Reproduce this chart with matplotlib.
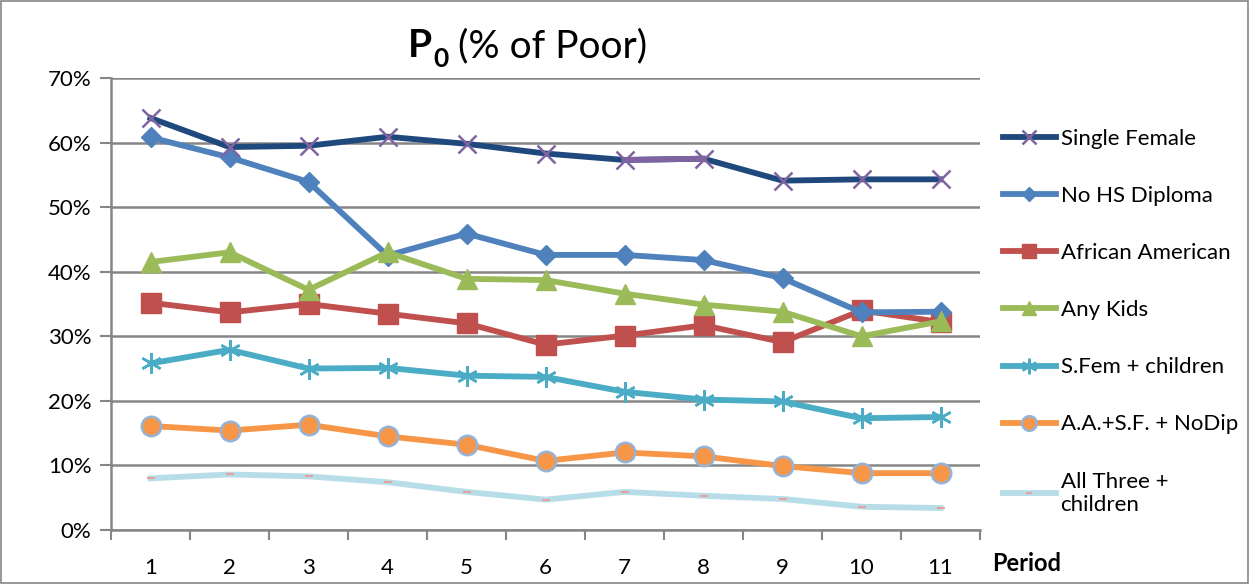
#%%
import numpy as np
import matplotlib.pyplot as plt
from matplotlib.patches import Rectangle

plt.rcParams['font.family'] = ['Lato', 'DejaVu Sans']

# %% data (in %)
periods = np.arange(1, 12)
single_female = [63.8, 59.3, 59.5, 60.9, 59.8, 58.3, 57.3, 57.5, 54.1, 54.3, 54.3]
no_hs_diploma = [60.8, 57.7, 53.9, 42.5, 45.9, 42.6, 42.6, 41.8, 39.0, 33.7, 33.8]
african_american = [35.2, 33.7, 35.0, 33.5, 32.0, 28.7, 30.1, 31.7, 29.1, 34.0, 32.2]
any_kids = [41.5, 43.0, 37.2, 43.0, 38.9, 38.7, 36.6, 34.9, 33.8, 30.0, 32.3]
sfem_children = [25.8, 27.9, 25.0, 25.1, 23.9, 23.7, 21.4, 20.2, 19.9, 17.3, 17.5]
aa_sf_nodip = [16.1, 15.4, 16.3, 14.5, 13.2, 10.7, 12.0, 11.4, 9.9, 8.8, 8.8]
all_three = [8.0, 8.6, 8.3, 7.4, 5.9, 4.7, 5.9, 5.3, 4.8, 3.6, 3.4]

labels = ["Single Female", "No HS Diploma", "African American", "Any Kids",
          "S.Fem + children", "A.A.+S.F. + NoDip", "All Three +\nchildren"]
yticks = [0, 10, 20, 30, 40, 50, 60, 70]

# %% plot
fig = plt.figure(figsize=(12.5, 5.84), dpi=100)
ax = fig.add_axes([0.0888, 0.0925, 0.6952, 0.774])

lw = 4.2
ax.plot(periods, single_female, color='#1F497D', lw=lw, marker='x', ms=13,
        mec='#8064A2', mew=1.8, label=labels[0], zorder=5)
# one segment of this series is purple in the original
ax.plot(periods[6:8], single_female[6:8], color='#8064A2', lw=lw, zorder=5)
ax.plot(periods, no_hs_diploma, color='#4F81BD', lw=lw, marker='D', ms=10,
        mfc='#4F81BD', mec='#4F81BD', label=labels[1], zorder=4)
ax.plot(periods, african_american, color='#C0504D', lw=lw, marker='s', ms=14,
        mfc='#C0504D', mec='#C0504D', label=labels[2], zorder=3)
ax.plot(periods, any_kids, color='#9BBB59', lw=lw, marker='^', ms=14,
        mfc='#9BBB59', mec='#9BBB59', label=labels[3], zorder=4)
ax.plot(periods, sfem_children, color='#4BACC6', lw=lw, marker=(6, 2, 0), ms=15,
        mec='#4BACC6', mew=1.8, label=labels[4], zorder=3)
ax.plot(periods, aa_sf_nodip, color='#F79646', lw=lw, marker='o', ms=14,
        mfc='#F79646', mec='#95B3D7', mew=1.8, label=labels[5], zorder=3)
ax.plot(periods, all_three, color='#B7DEE8', lw=lw, marker='_', ms=6,
        mec='#E6A0A0', mew=1.5, label=labels[6], zorder=3)

ax.set_xlim(0.5, 11.5)
ax.set_ylim(0, 70)
ax.set_yticks(yticks)
ax.set_yticklabels([f"{v}%" for v in yticks])
ax.set_xticks(periods)
ax.set_xticks(np.arange(0.5, 12, 1), minor=True)
ax.tick_params(axis='x', which='major', length=0, pad=20, labelsize=16)
ax.tick_params(axis='x', which='minor', length=7, width=1.5, color='#868686')
ax.tick_params(axis='y', length=8, width=1.5, color='#868686', labelsize=16, pad=6)
ax.grid(axis='y', color='#868686', lw=1.8)
ax.set_axisbelow(True)
for side in ['top', 'right']:
    ax.spines[side].set_visible(False)
for side in ['left', 'bottom']:
    ax.spines[side].set_color('#868686')
    ax.spines[side].set_linewidth(1.8)

# title: bold P with bold subscript 0, then regular text
fig.text(0.326, 0.902, "P", fontsize=28, fontweight='bold', ha='left', va='baseline')
fig.text(0.347, 0.886, "0", fontsize=19, fontweight='bold', ha='left', va='baseline')
fig.text(0.366, 0.902, "(% of Poor)", fontsize=28, ha='left', va='baseline')
fig.text(0.794, 0.022, "Period", fontsize=17, fontweight='bold', ha='left')

leg = ax.legend(loc='upper left', bbox_to_anchor=(1.016, 0.907), frameon=False,
                fontsize=16, labelspacing=1.67, handlelength=2.4,
                handletextpad=0.2, borderaxespad=0)
for h in leg.legend_handles:
    h.set_markersize(h.get_markersize() * 0.75)

fig.patches.append(Rectangle((0.001, 0.002), 0.997, 0.996, transform=fig.transFigure,
                             fill=False, edgecolor='#868686', lw=1.2))

fig.savefig("out.png", dpi=100)
